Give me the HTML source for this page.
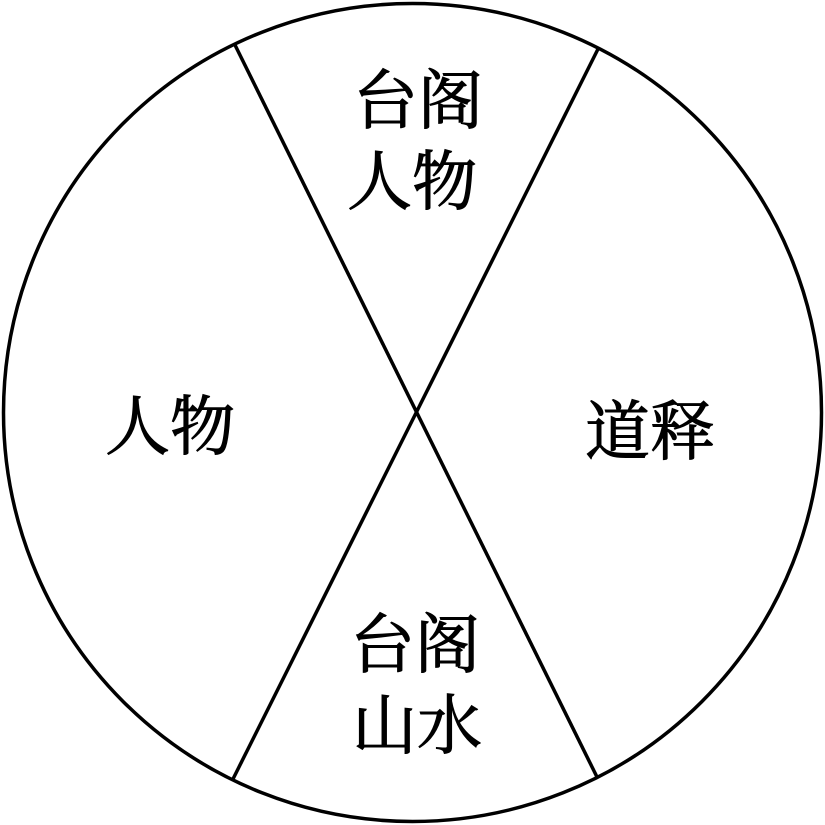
<!DOCTYPE html>
<html><head><meta charset="utf-8"><style>
html,body{margin:0;padding:0;background:#fff;}
svg{display:block}
text{font-family:"Liberation Serif","Noto Serif CJK SC","Noto Sans CJK SC",serif;font-size:65px;fill:#000;stroke:#000;stroke-width:1;}
</style></head><body>
<svg width="825" height="825" viewBox="0 0 825 825">
<circle cx="412.5" cy="412.5" r="409" fill="none" stroke="#000" stroke-width="3.5"/>
<line x1="235" y1="45" x2="597" y2="777" stroke="#000" stroke-width="3.5"/>
<line x1="598" y1="49" x2="233" y2="779" stroke="#000" stroke-width="3.5"/>
<text x="418" y="123" text-anchor="middle">台阁</text>
<text x="412" y="204" text-anchor="middle">人物</text>
<text x="170" y="449" text-anchor="middle">人物</text>
<text x="650" y="454" text-anchor="middle">道释</text>
<text x="415" y="667" text-anchor="middle">台阁</text>
<text x="417" y="748" text-anchor="middle">山水</text>
</svg>
</body></html>
